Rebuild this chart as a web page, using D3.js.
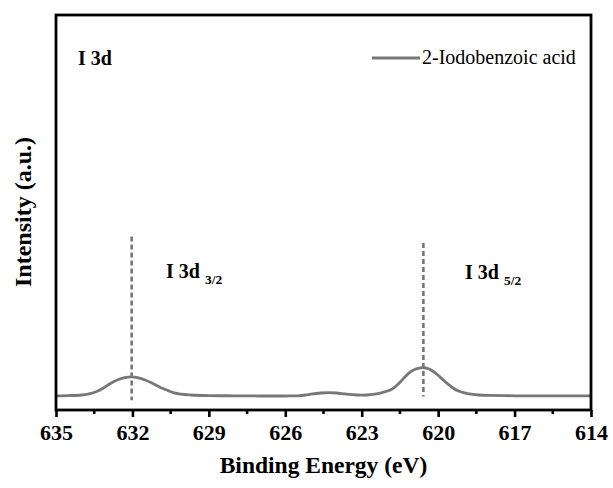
<!DOCTYPE html>
<html>
<head>
<meta charset="utf-8">
<script src="https://cdn.jsdelivr.net/npm/d3@7/dist/d3.min.js"></script>
<style>
  body { margin: 0; background: #fff; }
  svg { display: block; }
  svg text { font-family: "Liberation Serif", "Times New Roman", Times, "DejaVu Serif", serif; }
</style>
</head>
<body>
<svg id="chart" width="613" height="488"></svg>
<script>
// I 3d spectrum (binding energy in eV, intensity in a.u.)
var energy = [635, 634.5, 634, 633.7, 633.4, 633.1, 632.9, 632.6, 632.3, 632.03,
  631.8, 631.5, 631.2, 630.9, 630.6, 630.4, 630.1, 629.7, 629, 628, 627, 626,
  625.5, 625.2, 625, 624.6, 624.3, 624, 623.6, 623.2, 622.8, 622.5, 622.2, 621.9,
  621.7, 621.5, 621.3, 621.1, 620.9, 620.75, 620.58, 620.4, 620.2, 620.0,
  619.8, 619.6, 619.4, 619.2, 619.0, 618.7, 618.4, 618, 617, 616, 615, 614]
var intensity = [36, 36.5, 38, 41, 47, 57, 66, 76, 82, 84,
  82, 76, 67, 57, 49, 44, 40, 38, 36.5, 36, 35.5, 35.5,
  36, 38, 40, 43, 44, 43, 40, 38, 38, 40, 44, 50,
  58, 70, 84, 96, 103, 106, 107, 105, 98, 88,
  76, 65, 55, 48, 44, 40, 38, 37, 36, 36, 36, 36]

var xTicks = [635, 632, 629, 626, 623, 620, 617, 614]
var xMinorTicks = [633.5, 630.5, 627.5, 624.5, 621.5, 618.5, 615.5]

// peak markers: position and vertical extent of dashed lines
var peakPos = [632.03, 620.58]
var peakTop = [439, 423]
var peakBottom = [25, 34]
var peakNames = ["3/2", "5/2"]

var seriesName = "2-Iodobenzoic acid"

var margin = {left: 56, right: 22, top: 15, bottom: 78}
var W = 613, H = 488
var svg = d3.select("#chart")

var x = d3.scaleLinear().domain([635, 614]).range([margin.left, W - margin.right])
var y = d3.scaleLinear().domain([0, 1000]).range([H - margin.bottom, margin.top])

var grey = "#777777"
var serif = "'Liberation Serif', 'Times New Roman', Times, 'DejaVu Serif', serif"

// dashed peak lines
svg.selectAll(".peakline")
  .data(peakPos)
  .enter().append("line")
    .attr("class", "peakline")
    .attr("x1", function(d) { return x(d) })
    .attr("x2", function(d) { return x(d) })
    .attr("y1", function(d, i) { return y(peakTop[i]) })
    .attr("y2", function(d, i) { return y(peakBottom[i]) })
    .style("stroke", grey)
    .style("stroke-width", 2.6)
    .style("stroke-dasharray", "5,3")

// spectrum
var line = d3.line()
  .x(function(d) { return x(d[0]) })
  .y(function(d) { return y(d[1]) })
  .curve(d3.curveCatmullRom.alpha(0.5))

svg.append("path")
  .datum(d3.zip(energy, intensity))
  .attr("d", line)
  .style("fill", "none")
  .style("stroke", grey)
  .style("stroke-width", 2.8)

// frame
svg.append("rect")
  .attr("x", margin.left)
  .attr("y", margin.top)
  .attr("width", W - margin.left - margin.right)
  .attr("height", H - margin.top - margin.bottom)
  .style("fill", "none")
  .style("stroke", "black")
  .style("stroke-width", 2.8)

// bottom axis
var xAxis = d3.axisBottom(x).tickValues(xTicks).tickSize(7).tickSizeOuter(0).tickFormat(d3.format("d"))
var gx = svg.append("g")
  .attr("transform", "translate(0," + (H - margin.bottom) + ")")
  .call(xAxis)
  .attr("font-family", null)
gx.select(".domain").remove()
gx.selectAll(".tick line").style("stroke", "black").style("stroke-width", 2.6)
gx.selectAll(".tick text")
  .attr("y", 14)
  .attr("dy", "0.71em")
  .style("font-family", serif)
  .style("font-size", "22px")
  .style("font-weight", "bold")
  .style("fill", "black")

svg.append("g").selectAll(".minor")
  .data(xMinorTicks)
  .enter().append("line")
    .attr("x1", function(d) { return x(d) })
    .attr("x2", function(d) { return x(d) })
    .attr("y1", H - margin.bottom)
    .attr("y2", H - margin.bottom + 4)
    .style("stroke", "black")
    .style("stroke-width", 2.6)

// axis titles
svg.append("text")
  .attr("x", (margin.left + W - margin.right) / 2)
  .attr("y", 473)
  .attr("text-anchor", "middle")
  .style("font-size", "23.5px")
  .style("font-weight", "bold")
  .text("Binding Energy (eV)")

svg.append("text")
  .attr("transform", "translate(31," + 212 + ") rotate(-90)")
  .attr("text-anchor", "middle")
  .style("font-size", "24px")
  .style("font-weight", "bold")
  .text("Intensity (a.u.)")

// labels
svg.append("text")
  .attr("x", 78).attr("y", 65)
  .style("font-size", "20px").style("font-weight", "bold")
  .text("I 3d")

var labX = [166, 465], labY = [278, 279]
peakNames.forEach(function(n, i) {
  var t = svg.append("text")
    .attr("x", labX[i]).attr("y", labY[i])
    .style("font-size", "20px").style("font-weight", "bold")
  t.append("tspan").text("I 3d")
  t.append("tspan").attr("dx", 5).attr("dy", 5.5).style("font-size", "13.5px").text(n)
})

// legend
svg.append("line")
  .attr("x1", 372).attr("x2", 420).attr("y1", 58).attr("y2", 58)
  .style("stroke", grey).style("stroke-width", 3)
svg.append("text")
  .attr("x", 422).attr("y", 64)
  .style("font-size", "20px")
  .text(seriesName)
</script>
</body>
</html>
